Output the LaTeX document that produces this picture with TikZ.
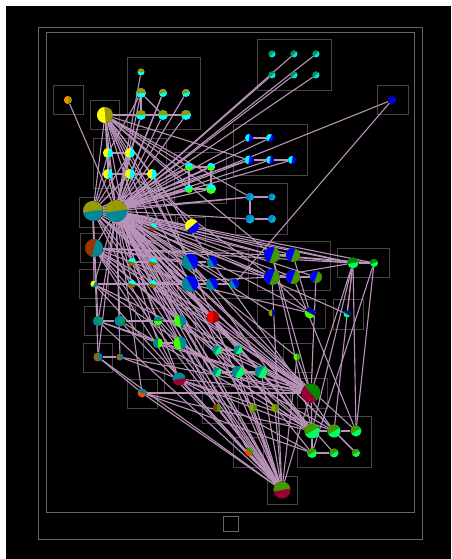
\documentclass[tikz,border=0pt]{standalone}
\usepackage{tikz}
\definecolor{colive}{HTML}{999900}
\definecolor{ccyan}{HTML}{00FFFF}
\definecolor{ccyanb}{HTML}{00E6DD}
\definecolor{cyellow}{HTML}{FFFF00}
\definecolor{corange}{HTML}{FF8800}
\definecolor{cgreen}{HTML}{44FF00}
\definecolor{ctealg}{HTML}{009966}
\definecolor{cdblue}{HTML}{0000AA}
\definecolor{cblue}{HTML}{0000FF}
\definecolor{clba}{HTML}{0088CC}
\definecolor{clbb}{HTML}{00AADD}
\definecolor{cteal}{HTML}{008899}
\definecolor{cbrown}{HTML}{993300}
\definecolor{cbrowny}{HTML}{996600}
\definecolor{cgreenD}{HTML}{449900}
\definecolor{cdgreen}{HTML}{008800}
\definecolor{cspring}{HTML}{00FF66}
\definecolor{cred}{HTML}{FF0000}
\definecolor{cdred}{HTML}{AA0000}
\definecolor{ccrimson}{HTML}{990033}
\definecolor{corred}{HTML}{FF4400}
\definecolor{cedge}{HTML}{B993B9}
\definecolor{cframe}{HTML}{454545}
\pgfdeclarelayer{boxes}
\pgfdeclarelayer{edges}
\pgfsetlayers{boxes,edges,main}
\tikzset{
  pnode/.style={circle, inner sep=0pt, draw=none},
  edge/.style={draw=cedge, line width=1.1pt},
  frame/.style={draw=cframe, line width=0.9pt},
  oframe/.style={draw=cframe!120, line width=0.9pt},
}
% name, x, y, r, colour A, colour B, angle
\newcommand\pn[7]{%
  \node[pnode, minimum size=#4*2pt, fill=#6] (#1) at (#2,#3) {};
  \fill[#5] (#1.center) ++(#7:#4pt) arc[start angle=#7, delta angle=180, radius=#4pt] -- cycle;}
\begin{document}
\begin{tikzpicture}[x=1pt,y=-1pt]
\useasboundingbox (0,0) rectangle (451,559);
\begin{pgfonlayer}{boxes}
\fill[white] (0,0) rectangle (451,559);
\fill[black] (6,6) rectangle (451,559);
\draw[frame, draw=black!60] (38,27) rectangle (422,539);
\draw[frame, draw=black!60] (46,32) rectangle (414,512);
\foreach \xa/\ya/\xb/\yb in {53/85/83/114, 90/100/119/129, 127/57/200/129, 93/138/166/188,
  174/152/226/203, 257/39/331/90, 377/85/408/114, 233/124/307/175, 235/183/287/234,
  79/197/130/227, 80/233/108/262, 79/269/108/298, 138/215/175/240, 177/217/205/243,
  118/250/168/298, 177/250/248/298, 257/241/330/290, 337/248/389/277, 257/299/325/328,
  333/299/363/329, 84/306/135/335, 83/343/112/372, 143/308/195/358, 203/337/275/386,
  164/363/193/393, 127/379/157/408, 202/393/231/423, 238/393/290/423, 283/343/312/372,
  297/378/327/408, 297/416/371/467, 233/437/263/467, 267/476/297/504}
  \draw[frame] (\xa,\ya) rectangle (\xb,\yb);
\draw[frame, draw=black!60] (223,516) rectangle (238,531);
\end{pgfonlayer}
% nodes
\pn{n1}{68}{100}{4}{corange}{colive}{90}
\pn{n2}{105}{115}{8}{cyellow}{colive}{95}
\pn{a1}{141}{72}{3.5}{colive}{ccyan}{5}
\pn{a2}{141}{93}{5}{colive}{ccyan}{5}
\pn{a3}{163}{93}{4}{colive}{ccyan}{20}
\pn{a4}{186}{93}{4}{colive}{ccyan}{20}
\pn{a5}{141}{115}{5}{colive}{ccyan}{0}
\pn{a6}{163}{115}{5}{colive}{ccyan}{0}
\pn{a7}{186}{115}{5}{colive}{ccyan}{10}
\pn{y1}{108}{153}{5}{cyellow}{ccyan}{80}
\pn{y2}{130}{153}{5}{cyellow}{ccyan}{80}
\pn{y3}{108}{174}{5}{cyellow}{ccyan}{85}
\pn{y4}{130}{174}{5}{cyellow}{ccyan}{85}
\pn{y5}{152}{174}{5}{cyellow}{ccyan}{85}
\pn{c1}{189}{167}{4}{ccyan}{cgreen}{-10}
\pn{c2}{211}{167}{4}{ccyan}{cgreen}{-10}
\pn{c3}{189}{189}{4}{ccyan}{cgreen}{30}
\pn{c4}{211}{189}{5}{ccyan}{cgreen}{-10}
\pn{t1}{272}{54}{3.5}{ctealg}{ccyanb}{45}
\pn{t2}{294}{54}{3.5}{ctealg}{ccyanb}{45}
\pn{t3}{316}{54}{3.5}{ctealg}{ccyanb}{45}
\pn{t4}{272}{75}{3.5}{ctealg}{ccyanb}{45}
\pn{t5}{294}{75}{3.5}{ctealg}{ccyanb}{45}
\pn{t6}{316}{75}{3.5}{ctealg}{ccyanb}{45}
\pn{b0}{392}{100}{4}{cdblue}{cblue}{60}
\pn{cb1}{249}{138}{4}{ccyan}{cblue}{80}
\pn{cb2}{270}{138}{4}{ccyan}{cblue}{60}
\pn{cb3}{249}{160}{4.5}{ccyan}{cblue}{80}
\pn{cb4}{270}{160}{4}{ccyan}{cblue}{80}
\pn{cb5}{292}{160}{4}{ccyan}{cblue}{80}
\pn{lb1}{250}{197}{4}{clba}{clbb}{60}
\pn{lb2}{272}{197}{3.5}{clba}{clbb}{60}
\pn{lb3}{250}{219}{4.5}{clba}{clbb}{60}
\pn{lb4}{272}{219}{4}{clba}{clbb}{60}
\pn{h1}{93}{211}{10}{colive}{cteal}{8}
\pn{h2}{116}{211}{11}{colive}{cteal}{8}
\pn{h3}{94}{248}{9}{cbrown}{cteal}{75}
\pn{s1}{153}{227}{4}{ccyan}{cbrown}{-30}
\pn{yb}{192}{226}{7}{cyellow}{cblue}{40}
\pn{bc1}{132}{262}{4}{ccyan}{cbrowny}{-15}
\pn{bc2}{153}{262}{4}{ccyan}{cbrowny}{-15}
\pn{bc3}{132}{284}{4}{ccyan}{cbrowny}{-15}
\pn{bc4}{153}{284}{4}{ccyan}{cbrowny}{-15}
\pn{yt}{94}{284}{3.5}{cyellow}{cteal}{60}
\pn{tb1}{190}{262}{8}{cblue}{cteal}{-60}
\pn{tb2}{212}{262}{5.5}{cblue}{cteal}{-60}
\pn{tb3}{190}{284}{8}{cblue}{cteal}{-60}
\pn{tb4}{212}{284}{6}{cblue}{cteal}{-60}
\pn{tb5}{234}{284}{5}{cblue}{cteal}{-60}
\pn{bg1}{272}{255}{8}{cblue}{cgreenD}{70}
\pn{bg2}{293}{255}{7}{cblue}{cgreenD}{70}
\pn{bg3}{272}{277}{8}{cblue}{cgreenD}{70}
\pn{bg4}{293}{277}{7}{cblue}{cgreenD}{70}
\pn{bg5}{316}{277}{6}{cblue}{cgreenD}{70}
\pn{g1}{353}{263}{5.5}{cdgreen}{cspring}{10}
\pn{g2}{374}{263}{4}{cdgreen}{cspring}{20}
\pn{ob}{272}{313}{3.5}{colive}{cdblue}{90}
\pn{bgr}{310}{313}{5.5}{cdblue}{cgreen}{-30}
\pn{bgs}{347}{314}{3.5}{cdblue}{cspring}{-30}
\pn{rd}{213}{317}{6}{cred}{cdred}{90}
\pn{tt1}{98}{321}{5}{cteal}{ctealg}{90}
\pn{tt2}{120}{321}{5.5}{cteal}{ctealg}{90}
\pn{tg1}{158}{321}{4.5}{cteal}{cgreen}{0}
\pn{tg2}{180}{321}{6}{cgreen}{cteal}{100}
\pn{tg3}{158}{343}{5}{cteal}{cgreen}{90}
\pn{tg4}{180}{343}{6.5}{cgreen}{cteal}{100}
\pn{tg5}{217}{350}{4.5}{cteal}{cspring}{60}
\pn{tg6}{238}{350}{4.5}{cteal}{cspring}{60}
\pn{tg7}{217}{372}{4.5}{cteal}{cspring}{60}
\pn{tg8}{238}{372}{6}{cteal}{cspring}{60}
\pn{tg9}{261}{372}{6}{cteal}{cspring}{60}
\pn{gs}{297}{357}{3.5}{cgreen}{cgreenD}{90}
\pn{bt1}{98}{357}{4.5}{cbrowny}{cteal}{90}
\pn{bt2}{120}{357}{3.5}{cbrowny}{cteal}{90}
\pn{ct}{179}{379}{6.5}{cteal}{ccrimson}{10}
\pn{ot}{142}{393}{4.5}{cteal}{corred}{-20}
\pn{bgn1}{217}{408}{4}{cbrown}{cgreenD}{90}
\pn{bgn2}{253}{408}{4}{colive}{cgreenD}{90}
\pn{bgn3}{275}{408}{4}{colive}{cgreenD}{90}
\pn{cg}{311}{393}{9.5}{cdgreen}{ccrimson}{-50}
\pn{og}{249}{452}{4}{cgreenD}{corred}{-40}
\pn{gg1}{312}{431}{7.5}{cgreenD}{cspring}{30}
\pn{gg2}{334}{431}{6.5}{cgreenD}{cspring}{30}
\pn{gg3}{356}{431}{5.5}{cgreenD}{cspring}{30}
\pn{gg4}{312}{453}{5}{cgreenD}{cspring}{30}
\pn{gg5}{334}{453}{4.5}{cgreenD}{cspring}{30}
\pn{gg6}{356}{453}{4}{cgreenD}{cspring}{30}
\pn{cb}{282}{490}{8.5}{cgreenD}{ccrimson}{10}
% edges
\begin{pgfonlayer}{edges}
\foreach \b in {n1,n2,a1,a2,a3,a4,a5,a6,a7,y1,y2,y3,y4,y5,c1,c2,c3,c4,t2,t3,t4,t5,t6,b0,
  cb1,cb2,cb3,cb4,cb5,lb1,lb3,s1,yb,bc1,bc2,bc3,bc4,tb1,tb2,tb3,tb4,tb5,bg1,bg2,bg3,bg4,bg5,
  g1,g2,ob,bgr,bgs,rd,tt1,tt2,tg1,tg2,tg3,tg4,tg5,tg6,tg7,tg8,tg9,gs,bt1,bt2,ct,ot,
  bgn1,bgn2,bgn3,cg,og,gg1,gg2,gg3,gg4,gg5,gg6,cb,h1,h3,yt}
  \draw[edge] (h2) -- (\b);
\foreach \b in {n2,y1,y3,h3,yt,tt1,bt1,tb1,tb3,bg1,bg3,rd,cg,tg2,tg4,y2,y4,c1,c3,cb3,lb1,g1,ct}
  \draw[edge] (h1) -- (\b);
\foreach \b in {y1,y2,y3,y4,y5,c3,c4,tb1,bg1,a5,cb3,yb,tb3,s1,bc1,bc2,lb1,c1}
  \draw[edge] (n2) -- (\b);
\foreach \b in {tb1,bg1,cg,gg1,rd,tg4,ct,tb3,bg3,cb,g1,tg8}
  \draw[edge] (h3) -- (\b);
\foreach \a/\b in {yt/cg, yt/gg1, yt/tb3, yt/cb,
  bc1/cg, bc2/cb, bc3/bg3, bc4/gg1, bc1/cb, bc4/cg,
  tt1/cg, tt1/cb, tt2/gg1, tt2/tg1, tt1/tg3, tt2/cb,
  bt1/cb, bt2/cg, bt2/ct, bt1/ot,
  ot/cb, ot/cg, ot/gg1, ot/gg4,
  ct/cb, ct/cg, ct/gg1, ct/gg2, ct/gg4,
  tg2/cg, tg2/cb, tg4/gg1, tg4/gg2, tg4/cb, tg1/cb, tg3/cg,
  tg5/cg, tg6/cb, tg7/cg, tg8/cb, tg9/cg, tg9/cb,
  tb1/cg, tb1/gg1, tb3/cb, tb3/bgr, tb2/gg2,
  bg1/cg, bg1/gg1, bg3/cb, bg3/bgr, bg1/g2, bg2/bgr, bg4/gg3, bg5/cg,
  g1/gg1, g1/gg2, g1/gg3, g1/cg, g1/bg1, g1/bg3, g1/bgs,
  g2/gg4, g2/gg3,
  rd/cb, rd/cg, rd/gg1,
  bgn1/cb, bgn2/cb, bgn3/cb, og/cb, gs/cb, gs/cg,
  b0/tb5,
  y2/tb1, y4/bg3, y5/tb2, y5/rd, y3/tg2, a5/y2, a2/y1, a3/y4,
  a2/a5, a5/a6, a6/a7, a2/a6,
  lb1/lb2, lb1/lb3, lb3/lb4,
  gg1/gg2, gg2/gg3, gg4/gg5, gg2/gg6, gg1/gg4,
  g1/g2, bg1/bg2, bg3/bg4, bg4/bg5,
  tb1/tb2, tb3/tb4, tb4/tb5,
  y1/y2, y3/y4, y4/y5, y1/y3,
  c1/c2, c3/c4, c1/c3, c2/c4,
  cb1/cb2, cb3/cb4, cb4/cb5,
  tt1/tt2, bt1/bt2, tg1/tg2, tg3/tg4, bc1/bc2, bc3/bc4,
  tg5/tg6, tg7/tg8, tg8/tg9, cg/cb, cg/gg1}
  \draw[edge] (\a) -- (\b);
\end{pgfonlayer}
\end{tikzpicture}
\end{document}
